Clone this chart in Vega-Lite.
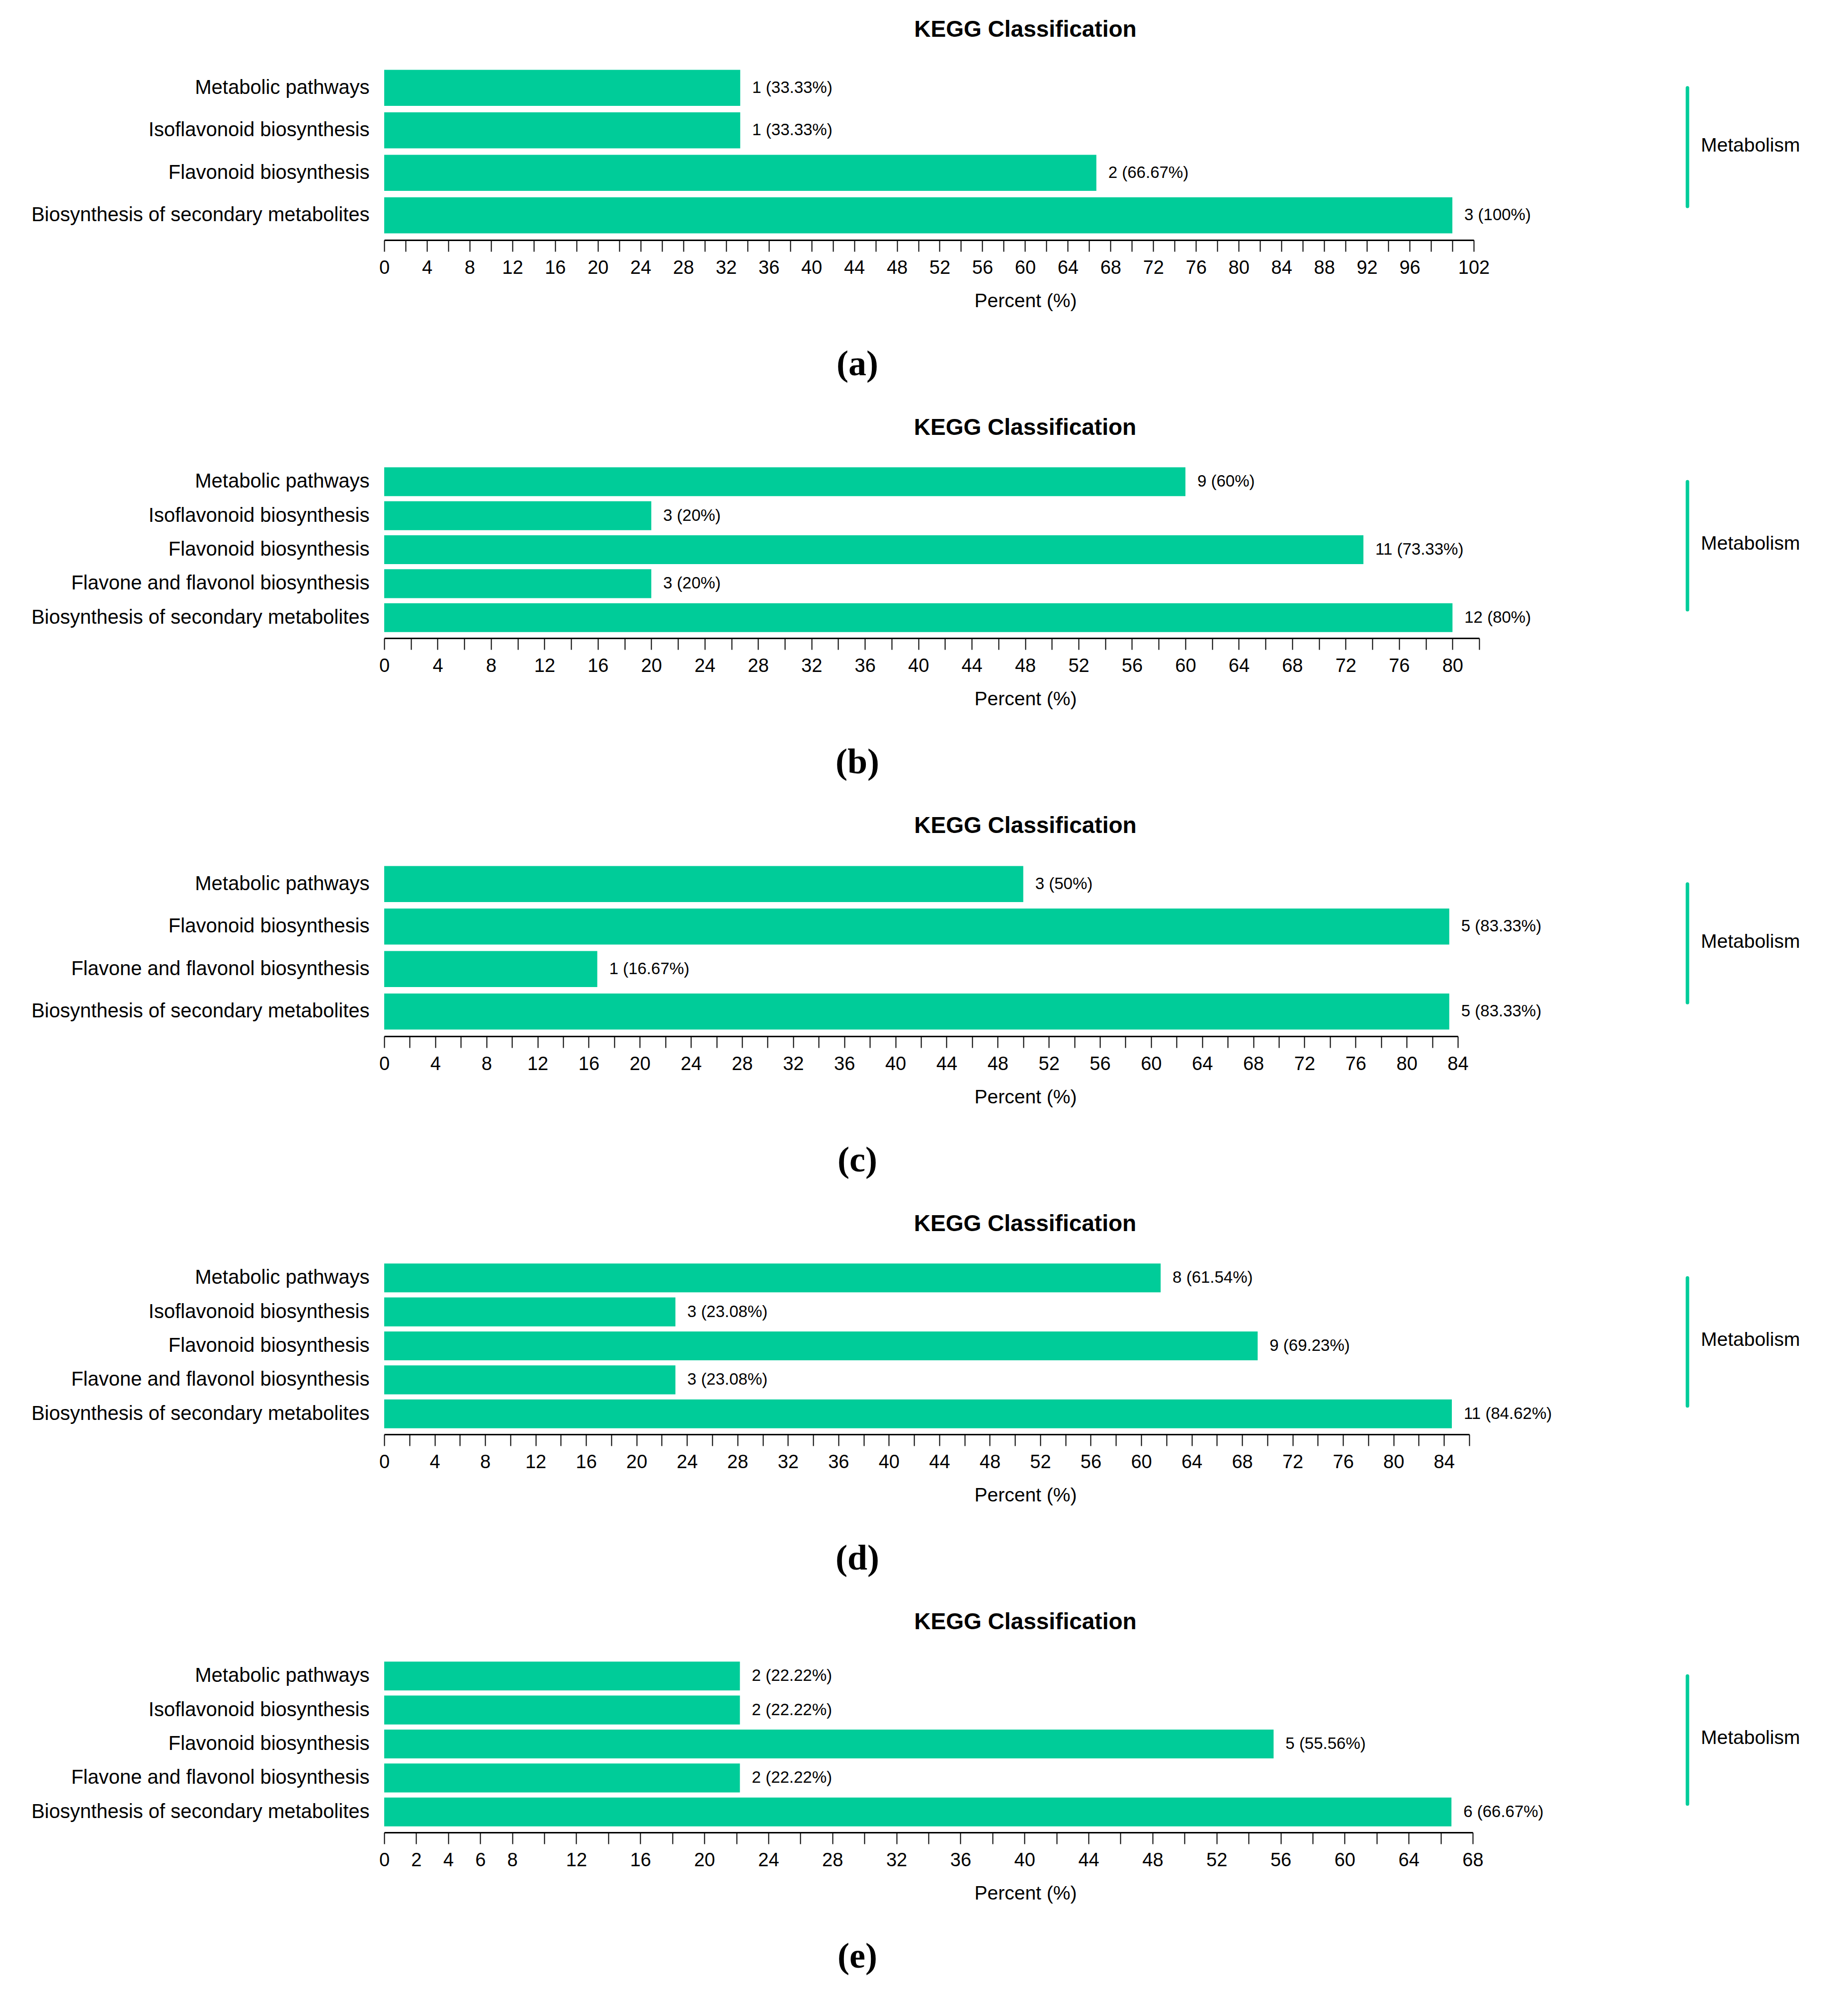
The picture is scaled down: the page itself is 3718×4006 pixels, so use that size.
{
  "$schema": "https://vega.github.io/schema/vega-lite/v6.json",
  "background": "white",
  "padding": {"left": 62, "top": 37, "right": 5, "bottom": 5},
  "bounds": "flush",
  "columns": 2,
  "spacing": {"column": 418, "row": 459},
  "datasets": {
    "bars": [
      {"panel": "a", "pathway": "Metabolic pathways", "count": 1, "percent": 33.33, "label": "1 (33.33%)"},
      {"panel": "a", "pathway": "Isoflavonoid biosynthesis", "count": 1, "percent": 33.33, "label": "1 (33.33%)"},
      {"panel": "a", "pathway": "Flavonoid biosynthesis", "count": 2, "percent": 66.67, "label": "2 (66.67%)"},
      {"panel": "a", "pathway": "Biosynthesis of secondary metabolites", "count": 3, "percent": 100, "label": "3 (100%)"},
      {"panel": "b", "pathway": "Metabolic pathways", "count": 9, "percent": 60, "label": "9 (60%)"},
      {"panel": "b", "pathway": "Isoflavonoid biosynthesis", "count": 3, "percent": 20, "label": "3 (20%)"},
      {"panel": "b", "pathway": "Flavonoid biosynthesis", "count": 11, "percent": 73.33, "label": "11 (73.33%)"},
      {"panel": "b", "pathway": "Flavone and flavonol biosynthesis", "count": 3, "percent": 20, "label": "3 (20%)"},
      {"panel": "b", "pathway": "Biosynthesis of secondary metabolites", "count": 12, "percent": 80, "label": "12 (80%)"},
      {"panel": "c", "pathway": "Metabolic pathways", "count": 3, "percent": 50, "label": "3 (50%)"},
      {"panel": "c", "pathway": "Flavonoid biosynthesis", "count": 5, "percent": 83.33, "label": "5 (83.33%)"},
      {"panel": "c", "pathway": "Flavone and flavonol biosynthesis", "count": 1, "percent": 16.67, "label": "1 (16.67%)"},
      {"panel": "c", "pathway": "Biosynthesis of secondary metabolites", "count": 5, "percent": 83.33, "label": "5 (83.33%)"},
      {"panel": "d", "pathway": "Metabolic pathways", "count": 8, "percent": 61.54, "label": "8 (61.54%)"},
      {"panel": "d", "pathway": "Isoflavonoid biosynthesis", "count": 3, "percent": 23.08, "label": "3 (23.08%)"},
      {"panel": "d", "pathway": "Flavonoid biosynthesis", "count": 9, "percent": 69.23, "label": "9 (69.23%)"},
      {"panel": "d", "pathway": "Flavone and flavonol biosynthesis", "count": 3, "percent": 23.08, "label": "3 (23.08%)"},
      {"panel": "d", "pathway": "Biosynthesis of secondary metabolites", "count": 11, "percent": 84.62, "label": "11 (84.62%)"},
      {"panel": "e", "pathway": "Metabolic pathways", "count": 2, "percent": 22.22, "label": "2 (22.22%)"},
      {"panel": "e", "pathway": "Isoflavonoid biosynthesis", "count": 2, "percent": 22.22, "label": "2 (22.22%)"},
      {"panel": "e", "pathway": "Flavonoid biosynthesis", "count": 5, "percent": 55.56, "label": "5 (55.56%)"},
      {"panel": "e", "pathway": "Flavone and flavonol biosynthesis", "count": 2, "percent": 22.22, "label": "2 (22.22%)"},
      {"panel": "e", "pathway": "Biosynthesis of secondary metabolites", "count": 6, "percent": 66.67, "label": "6 (66.67%)"}
    ],
    "groups": [
      {"panel": "a", "group": "Metabolism", "first": "Metabolic pathways", "last": "Biosynthesis of secondary metabolites"},
      {"panel": "b", "group": "Metabolism", "first": "Metabolic pathways", "last": "Biosynthesis of secondary metabolites"},
      {"panel": "c", "group": "Metabolism", "first": "Metabolic pathways", "last": "Biosynthesis of secondary metabolites"},
      {"panel": "d", "group": "Metabolism", "first": "Metabolic pathways", "last": "Biosynthesis of secondary metabolites"},
      {"panel": "e", "group": "Metabolism", "first": "Metabolic pathways", "last": "Biosynthesis of secondary metabolites"}
    ]
  },
  "concat": [
    {
      "width": 2192, "height": 342,
      "title": {"text": "KEGG Classification", "dx": 194},
      "data": {"name": "bars"},
      "transform": [{"filter": "datum.panel == 'a'"}],
      "encoding": {
        "y": {"field": "pathway", "type": "nominal", "sort": "descending", "title": null, "scale": {"paddingInner": 0.15, "paddingOuter": 0.075}},
        "x": {"field": "percent", "type": "quantitative", "title": "Percent (%)",
          "scale": {"domain": [0, 102], "nice": false},
          "axis": {"values": [0,2,4,6,8,10,12,14,16,18,20,22,24,26,28,30,32,34,36,38,40,42,44,46,48,50,52,54,56,58,60,62,64,66,68,70,72,74,76,78,80,82,84,86,88,90,92,94,96,98,100,102],
            "labelExpr": "(datum.value % 4 == 0 && datum.value < 100) || datum.value == 102 ? datum.label : ''"}}
      },
      "layer": [
        {"mark": {"type": "bar", "color": "#00CC99"}},
        {"mark": {"type": "text", "align": "left", "baseline": "middle", "dx": 24, "fontSize": 33}, "encoding": {"text": {"field": "label"}}}
      ]
    },
    {
      "width": 2, "height": 342,
      "title": {"text": "(a)", "orient": "bottom", "font": "Liberation Serif", "fontSize": 72, "dx": -1670, "offset": 222, "baseline": "top"},
      "data": {"name": "groups"},
      "transform": [{"filter": "datum.panel == 'a'"}],
      "encoding": {"x": {"field": "group", "type": "nominal", "scale": {"type": "point"}, "axis": null}},
      "layer": [
        {"mark": {"type": "rule", "color": "#00CC99", "strokeWidth": 7, "strokeCap": "round", "y2Offset": -18},
          "encoding": {
            "y": {"field": "first", "type": "nominal", "axis": null, "scale": {"type": "point", "padding": 0.5, "domain": ["Metabolic pathways", "Isoflavonoid biosynthesis", "Flavonoid biosynthesis", "Biosynthesis of secondary metabolites"]}},
            "y2": {"field": "last"}}},
        {"mark": {"type": "text", "align": "left", "baseline": "middle", "dx": 27, "dy": -12, "fontSize": 39}, "encoding": {"text": {"field": "group"}}}
      ]
    },
    {
      "width": 2203, "height": 342,
      "title": {"text": "KEGG Classification", "dx": 188},
      "data": {"name": "bars"},
      "transform": [{"filter": "datum.panel == 'b'"}],
      "encoding": {
        "y": {"field": "pathway", "type": "nominal", "sort": "descending", "title": null, "scale": {"paddingInner": 0.15, "paddingOuter": 0.075}},
        "x": {"field": "percent", "type": "quantitative", "title": "Percent (%)",
          "scale": {"domain": [0, 82], "nice": false},
          "axis": {"values": [0,2,4,6,8,10,12,14,16,18,20,22,24,26,28,30,32,34,36,38,40,42,44,46,48,50,52,54,56,58,60,62,64,66,68,70,72,74,76,78,80,82],
            "labelExpr": "datum.value % 4 == 0 ? datum.label : ''"}}
      },
      "layer": [
        {"mark": {"type": "bar", "color": "#00CC99"}},
        {"mark": {"type": "text", "align": "left", "baseline": "middle", "dx": 24, "fontSize": 33}, "encoding": {"text": {"field": "label"}}}
      ]
    },
    {
      "width": 2, "height": 342,
      "title": {"text": "(b)", "orient": "bottom", "font": "Liberation Serif", "fontSize": 72, "dx": -1670, "offset": 222, "baseline": "top"},
      "data": {"name": "groups"},
      "transform": [{"filter": "datum.panel == 'b'"}],
      "encoding": {"x": {"field": "group", "type": "nominal", "scale": {"type": "point"}, "axis": null}},
      "layer": [
        {"mark": {"type": "rule", "color": "#00CC99", "strokeWidth": 7, "strokeCap": "round", "y2Offset": -16},
          "encoding": {
            "y": {"field": "first", "type": "nominal", "axis": null, "scale": {"type": "point", "padding": 0.5, "domain": ["Metabolic pathways", "Isoflavonoid biosynthesis", "Flavonoid biosynthesis", "Flavone and flavonol biosynthesis", "Biosynthesis of secondary metabolites"]}},
            "y2": {"field": "last"}}},
        {"mark": {"type": "text", "align": "left", "baseline": "middle", "dx": 27, "dy": -12, "fontSize": 39}, "encoding": {"text": {"field": "group"}}}
      ]
    },
    {
      "width": 2160, "height": 342,
      "title": {"text": "KEGG Classification", "dx": 210},
      "data": {"name": "bars"},
      "transform": [{"filter": "datum.panel == 'c'"}],
      "encoding": {
        "y": {"field": "pathway", "type": "nominal", "sort": "descending", "title": null, "scale": {"paddingInner": 0.15, "paddingOuter": 0.075}},
        "x": {"field": "percent", "type": "quantitative", "title": "Percent (%)",
          "scale": {"domain": [0, 84], "nice": false},
          "axis": {"values": [0,2,4,6,8,10,12,14,16,18,20,22,24,26,28,30,32,34,36,38,40,42,44,46,48,50,52,54,56,58,60,62,64,66,68,70,72,74,76,78,80,82,84],
            "labelExpr": "datum.value % 4 == 0 ? datum.label : ''"}}
      },
      "layer": [
        {"mark": {"type": "bar", "color": "#00CC99"}},
        {"mark": {"type": "text", "align": "left", "baseline": "middle", "dx": 24, "fontSize": 33}, "encoding": {"text": {"field": "label"}}}
      ]
    },
    {
      "width": 2, "height": 342,
      "title": {"text": "(c)", "orient": "bottom", "font": "Liberation Serif", "fontSize": 72, "dx": -1670, "offset": 222, "baseline": "top"},
      "data": {"name": "groups"},
      "transform": [{"filter": "datum.panel == 'c'"}],
      "encoding": {"x": {"field": "group", "type": "nominal", "scale": {"type": "point"}, "axis": null}},
      "layer": [
        {"mark": {"type": "rule", "color": "#00CC99", "strokeWidth": 7, "strokeCap": "round", "y2Offset": -18},
          "encoding": {
            "y": {"field": "first", "type": "nominal", "axis": null, "scale": {"type": "point", "padding": 0.5, "domain": ["Metabolic pathways", "Flavonoid biosynthesis", "Flavone and flavonol biosynthesis", "Biosynthesis of secondary metabolites"]}},
            "y2": {"field": "last"}}},
        {"mark": {"type": "text", "align": "left", "baseline": "middle", "dx": 27, "dy": -12, "fontSize": 39}, "encoding": {"text": {"field": "group"}}}
      ]
    },
    {
      "width": 2183, "height": 342,
      "title": {"text": "KEGG Classification", "dx": 198},
      "data": {"name": "bars"},
      "transform": [{"filter": "datum.panel == 'd'"}],
      "encoding": {
        "y": {"field": "pathway", "type": "nominal", "sort": "descending", "title": null, "scale": {"paddingInner": 0.15, "paddingOuter": 0.075}},
        "x": {"field": "percent", "type": "quantitative", "title": "Percent (%)",
          "scale": {"domain": [0, 86], "nice": false},
          "axis": {"values": [0,2,4,6,8,10,12,14,16,18,20,22,24,26,28,30,32,34,36,38,40,42,44,46,48,50,52,54,56,58,60,62,64,66,68,70,72,74,76,78,80,82,84,86],
            "labelExpr": "datum.value % 4 == 0 ? datum.label : ''"}}
      },
      "layer": [
        {"mark": {"type": "bar", "color": "#00CC99"}},
        {"mark": {"type": "text", "align": "left", "baseline": "middle", "dx": 24, "fontSize": 33}, "encoding": {"text": {"field": "label"}}}
      ]
    },
    {
      "width": 2, "height": 342,
      "title": {"text": "(d)", "orient": "bottom", "font": "Liberation Serif", "fontSize": 72, "dx": -1670, "offset": 222, "baseline": "top"},
      "data": {"name": "groups"},
      "transform": [{"filter": "datum.panel == 'd'"}],
      "encoding": {"x": {"field": "group", "type": "nominal", "scale": {"type": "point"}, "axis": null}},
      "layer": [
        {"mark": {"type": "rule", "color": "#00CC99", "strokeWidth": 7, "strokeCap": "round", "y2Offset": -16},
          "encoding": {
            "y": {"field": "first", "type": "nominal", "axis": null, "scale": {"type": "point", "padding": 0.5, "domain": ["Metabolic pathways", "Isoflavonoid biosynthesis", "Flavonoid biosynthesis", "Flavone and flavonol biosynthesis", "Biosynthesis of secondary metabolites"]}},
            "y2": {"field": "last"}}},
        {"mark": {"type": "text", "align": "left", "baseline": "middle", "dx": 27, "dy": -12, "fontSize": 39}, "encoding": {"text": {"field": "group"}}}
      ]
    },
    {
      "width": 2190, "height": 342,
      "title": {"text": "KEGG Classification", "dx": 195},
      "data": {"name": "bars"},
      "transform": [{"filter": "datum.panel == 'e'"}],
      "encoding": {
        "y": {"field": "pathway", "type": "nominal", "sort": "descending", "title": null, "scale": {"paddingInner": 0.15, "paddingOuter": 0.075}},
        "x": {"field": "percent", "type": "quantitative", "title": "Percent (%)",
          "scale": {"domain": [0, 68], "nice": false},
          "axis": {"values": [0,2,4,6,8,10,12,14,16,18,20,22,24,26,28,30,32,34,36,38,40,42,44,46,48,50,52,54,56,58,60,62,64,66,68],
            "labelExpr": "datum.value <= 8 || datum.value % 4 == 0 ? datum.label : ''"}}
      },
      "layer": [
        {"mark": {"type": "bar", "color": "#00CC99"}},
        {"mark": {"type": "text", "align": "left", "baseline": "middle", "dx": 24, "fontSize": 33}, "encoding": {"text": {"field": "label"}}}
      ]
    },
    {
      "width": 2, "height": 342,
      "title": {"text": "(e)", "orient": "bottom", "font": "Liberation Serif", "fontSize": 72, "dx": -1670, "offset": 222, "baseline": "top"},
      "data": {"name": "groups"},
      "transform": [{"filter": "datum.panel == 'e'"}],
      "encoding": {"x": {"field": "group", "type": "nominal", "scale": {"type": "point"}, "axis": null}},
      "layer": [
        {"mark": {"type": "rule", "color": "#00CC99", "strokeWidth": 7, "strokeCap": "round", "y2Offset": -16},
          "encoding": {
            "y": {"field": "first", "type": "nominal", "axis": null, "scale": {"type": "point", "padding": 0.5, "domain": ["Metabolic pathways", "Isoflavonoid biosynthesis", "Flavonoid biosynthesis", "Flavone and flavonol biosynthesis", "Biosynthesis of secondary metabolites"]}},
            "y2": {"field": "last"}}},
        {"mark": {"type": "text", "align": "left", "baseline": "middle", "dx": 27, "dy": -12, "fontSize": 39}, "encoding": {"text": {"field": "group"}}}
      ]
    }
  ],
  "config": {
    "view": {"stroke": null},
    "title": {"font": "Liberation Sans", "fontSize": 46, "fontWeight": "bold", "color": "black", "anchor": "middle", "frame": "group", "offset": 50},
    "text": {"font": "Liberation Sans", "color": "black"},
    "axisX": {"domainColor": "black", "domainWidth": 3, "tickColor": "black", "tickWidth": 2, "tickSize": 23,
      "labelFont": "Liberation Sans", "labelFontSize": 38, "labelColor": "black", "labelPadding": 14, "labelFlush": false, "labelOverlap": false,
      "grid": false, "offset": 7,
      "titleFont": "Liberation Sans", "titleFontSize": 39, "titleFontWeight": "normal", "titleColor": "black",
      "titleX": 1290, "titleY": 122, "titleBaseline": "middle"},
    "axisY": {"domain": false, "ticks": false, "grid": false, "labelFont": "Liberation Sans", "labelFontSize": 40, "labelColor": "black", "labelPadding": 30, "labelLimit": 0}
  }
}
